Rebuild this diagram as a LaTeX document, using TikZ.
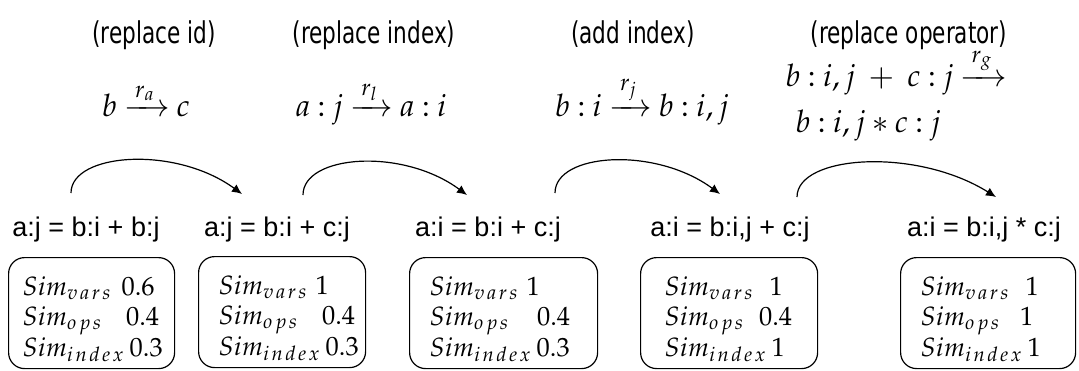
\documentclass[tikz,border=0pt]{standalone}
\usepackage{amsmath}
\usepackage{mathpazo}
\usepackage[no-math]{fontspec}
\usepackage{graphicx}
\newfontfamily\exprfont{Liberation Sans}
\newfontfamily\capfont{DejaVu Sans}
\usetikzlibrary{arrows.meta}
\newcommand{\capt}[1]{\scalebox{0.72}[1]{\capfont #1}}
\newcommand{\arr}[1]{\xrightarrow{\,#1\,}}
\newcommand{\sk}{\mkern2mu}
\newcommand{\svars}{v\sk a\sk r\sk s}
\newcommand{\sops}{o\sk p\sk s}
\newcommand{\sindex}{i\sk n\sk d\sk e\sk x}
\newcommand{\mathsp}{\thickmuskip=4mu\relax}
\tikzset{
  x=0.5pt, y=-0.5pt,
  captxt/.style={anchor=base, inner sep=0pt, font=\fontsize{15}{18}\selectfont},
  rule/.style={anchor=base, inner sep=0pt, font=\fontsize{15.5}{18}\selectfont\mathsp},
  expr/.style={anchor=base, inner sep=0pt, font=\exprfont\fontsize{13.5}{15}\selectfont},
  simbox/.style={draw, rounded corners=8pt, line width=0.6pt, anchor=north west,
    minimum height=55.5pt, align=left, inner ysep=0pt,
    font=\fontsize{13.2}{15.3}\selectfont},
  flow/.style={line width=0.6pt, -{Latex[length=5pt,width=4.5pt]}},
}
\newcommand{\srow}[3]{\mbox{$Sim_{#1}$\hspace{#2}$#3$}}
\newcommand{\tstrut}{\rule{0pt}{15.5pt}}
\begin{document}
\begin{tikzpicture}
\useasboundingbox (0,0) rectangle (1079,370);
% captions
\node[captxt] (c1) at (154,43) {\capt{(replace id)}};
\node[captxt] (c2) at (374,43) {\capt{(replace index)}};
\node[captxt] (c3) at (633,43) {\capt{(add index)}};
\node[captxt] (c4) at (909,43) {\capt{(replace operator)}};
% rules
\node[rule] (m1) at (146,116) {$b \arr{r_a} c$};
\node[rule] (m2) at (371,116) {$a:j \arr{r_l} a:i$};
\node[rule] (m3) at (642,116) {$b:i \arr{r_j} b:i,j$};
\node[rule, anchor=base west] (m4a) at (785,86) {$b:i,j\;+\;c:j \arr{r_g}$};
\node[rule, anchor=base west] (m4b) at (795,132) {$b:i,j*c:j$};
% expressions
\node[expr] (e1) at (86,236) {a:j = b:i + b:j};
\node[expr] (e2) at (277,236) {a:j = b:i + c:j};
\node[expr] (e3) at (488,236) {a:i = b:i + c:j};
\node[expr] (e4) at (730,236) {a:i = b:i,j + c:j};
\node[expr] (e5) at (984,236) {a:i = b:i,j * c:j};
% boxes
\node[simbox, inner xsep=7pt, text width=69pt] (s1) at (8,257)
  {\tstrut\srow{\svars}{5pt}{0.6}\\ \srow{\sops}{12pt}{0.4}\\ \srow{\sindex}{2.5pt}{0.3}};
\node[simbox, inner xsep=10pt, text width=63.5pt] (s2) at (198,256)
  {\tstrut\srow{\svars}{4pt}{1}\\ \srow{\sops}{12pt}{0.4}\\ \srow{\sindex}{2.5pt}{0.3}};
\node[simbox, inner xsep=10pt, text width=74pt] (s3) at (409,257)
  {\tstrut\srow{\svars}{4pt}{1}\\ \srow{\sops}{14pt}{0.4}\\ \srow{\sindex}{2.5pt}{0.3}};
\node[simbox, inner xsep=12pt, text width=64.5pt] (s4) at (640,257)
  {\tstrut\srow{\svars}{8pt}{1}\\ \srow{\sops}{7.5pt}{0.4}\\ \srow{\sindex}{2.5pt}{1}};
\node[simbox, inner xsep=10pt, text width=67.5pt] (s5) at (900,257)
  {\tstrut\srow{\svars}{8pt}{1}\\ \srow{\sops}{10pt}{1}\\ \srow{\sindex}{2.5pt}{1}};
% arcs
\coordinate (a1s) at (71,193);  \coordinate (a1e) at (242,194);
\coordinate (a2s) at (303,195); \coordinate (a2e) at (467,195);
\coordinate (a3s) at (555,193); \coordinate (a3e) at (720,194);
\coordinate (a4s) at (797,197); \coordinate (a4e) at (996,197);
\draw[flow] (a1s) .. controls +(0,-40) and +(-67,-49) .. (a1e);
\draw[flow] (a2s) .. controls +(0,-40) and +(-65,-48) .. (a2e);
\draw[flow] (a3s) .. controls +(0,-40) and +(-65,-48) .. (a3e);
\draw[flow] (a4s) .. controls +(0,-42) and +(-80,-50) .. (a4e);
\end{tikzpicture}
\end{document}
